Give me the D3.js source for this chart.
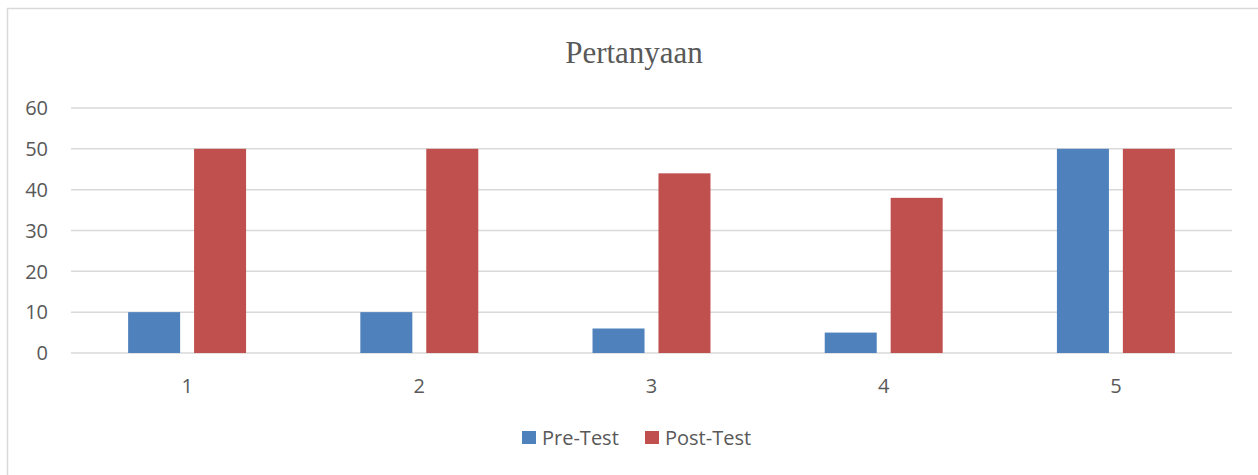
<!DOCTYPE html>
<html>
<head>
<meta charset="utf-8">
<script src="https://cdn.jsdelivr.net/npm/d3@7"></script>
<style>
  body { margin: 0; background: #fff; }
  svg { display: block; }
</style>
</head>
<body>
<div id="chart"></div>
<script>
const categories = ["1", "2", "3", "4", "5"];
const seriesNames = ["Pre-Test", "Post-Test"];
const preTest = [10, 10, 6, 5, 50];
const postTest = [50, 50, 44, 38, 50];
const yTicks = [0, 10, 20, 30, 40, 50, 60];
const colors = ["#4F81BD", "#C0504D"];

const W = 1258, H = 475;
const margin = {top: 108, right: 26, bottom: 122, left: 71};
const width = W - margin.left - margin.right,
      height = H - margin.top - margin.bottom;

const svg = d3.select("#chart").append("svg")
    .attr("width", W).attr("height", H);

// outer chart border
svg.append("rect")
    .attr("x", 7.5).attr("y", 8.5)
    .attr("width", W + 10).attr("height", H + 10)
    .attr("fill", "none").attr("stroke", "#d9d9d9").attr("stroke-width", 1.5);

// title
svg.append("text")
    .attr("x", 634).attr("y", 63)
    .attr("text-anchor", "middle")
    .style("font-family", "'Liberation Serif', 'Times New Roman', serif")
    .style("font-size", "31px")
    .style("fill", "#595959")
    .text("Pertanyaan");

const g = svg.append("g").attr("transform", `translate(${margin.left},${margin.top})`);

const x = d3.scaleBand().domain(categories).range([0, width]);
const y = d3.scaleLinear().domain([0, 60]).range([height, 0]);

// gridlines
g.append("g").selectAll("line").data(yTicks).enter().append("line")
    .attr("x1", 0).attr("x2", width)
    .attr("y1", d => y(d)).attr("y2", d => y(d))
    .attr("stroke", "#d9d9d9").attr("stroke-width", 1.5);

const font = "'Open Sans', 'Liberation Sans', sans-serif";
const fs = "20px";

// y axis labels
g.append("g").selectAll("text").data(yTicks).enter().append("text")
    .attr("x", -23).attr("y", d => y(d))
    .attr("dy", "0.36em")
    .attr("text-anchor", "end")
    .style("font-family", font).style("font-size", fs).style("fill", "#595959")
    .text(d => d);

// x axis labels
g.append("g").selectAll("text").data(categories).enter().append("text")
    .attr("x", d => x(d) + x.bandwidth() / 2)
    .attr("y", height + 40)
    .attr("text-anchor", "middle")
    .style("font-family", font).style("font-size", fs).style("fill", "#595959")
    .text(d => d);

// bars
const barW = x.bandwidth() * 0.224;
const gap = x.bandwidth() * 0.06;
const data = categories.map((c, i) => ({cat: c, vals: [preTest[i], postTest[i]]}));

const grp = g.append("g").selectAll("g").data(data).enter().append("g")
    .attr("transform", d => `translate(${x(d.cat) + x.bandwidth() / 2},0)`);

grp.selectAll("rect").data(d => d.vals).enter().append("rect")
    .attr("x", (d, j) => j === 0 ? -gap / 2 - barW : gap / 2)
    .attr("y", d => y(d))
    .attr("width", barW)
    .attr("height", d => y(0) - y(d))
    .attr("fill", (d, j) => colors[j]);

// legend
const legend = svg.append("g");
const legendX = [522, 645];
seriesNames.forEach((name, i) => {
    legend.append("rect")
        .attr("x", legendX[i]).attr("y", 431)
        .attr("width", 14).attr("height", 13)
        .attr("fill", colors[i]);
    legend.append("text")
        .attr("x", legendX[i] + 20).attr("y", 445)
        .style("font-family", font).style("font-size", fs).style("fill", "#595959")
        .text(name);
});
</script>
</body>
</html>
